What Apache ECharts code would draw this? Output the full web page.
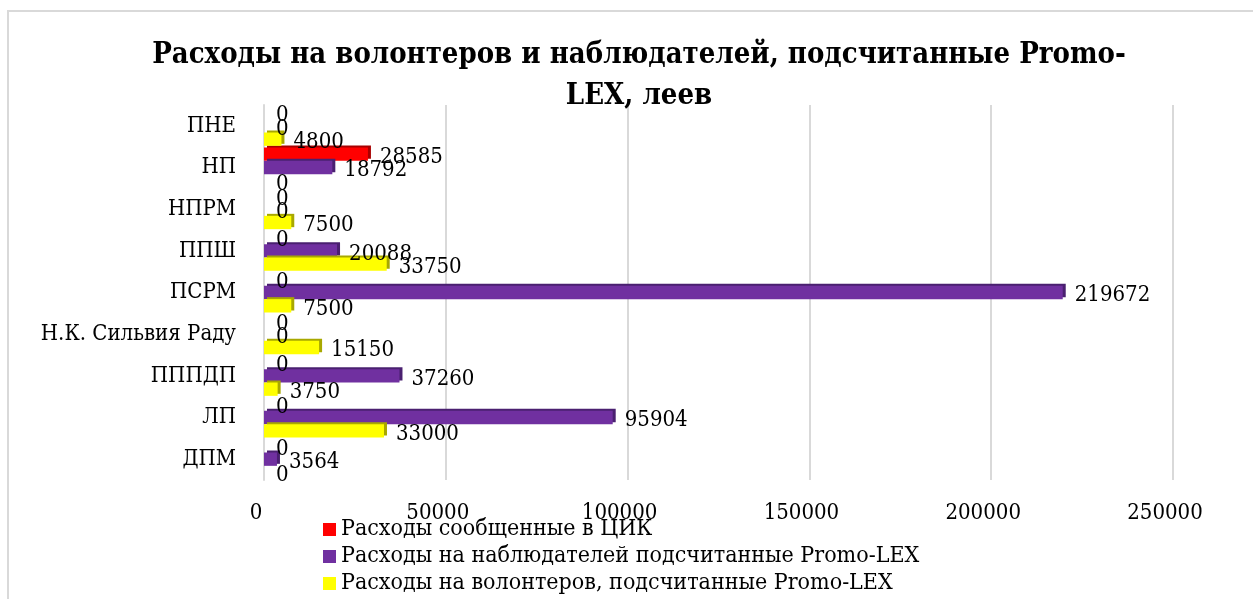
<!DOCTYPE html>
<html>
<head>
<meta charset="utf-8">
<title>Расходы на волонтеров и наблюдателей</title>
<script src="https://cdn.jsdelivr.net/npm/echarts@6/dist/echarts.min.js"></script>
<style>
  html, body { margin: 0; padding: 0; background: #fff; }
  #main { width: 1253px; height: 599px; }
</style>
</head>
<body>
<div id="main"></div>
<script>
// категории снизу вверх, как на оси
var categories = ['ДПМ', 'ЛП', 'ПППДП', 'Н.К. Сильвия Раду', 'ПСРМ', 'ППШ', 'НПРМ', 'НП', 'ПНЕ'];
var seriesNames = [
  'Расходы сообщенные в ЦИК',
  'Расходы на наблюдателей подсчитанные Promo-LEX',
  'Расходы на волонтеров, подсчитанные Promo-LEX'
];
var cikValues = [0, 0, 0, 0, 0, 0, 0, 28585, 0];
var observerValues = [3564, 95904, 37260, 0, 219672, 20088, 0, 18792, 0];
var volunteerValues = [0, 33000, 3750, 15150, 7500, 33750, 7500, 0, 4800];
var xTicks = [0, 50000, 100000, 150000, 200000, 250000];

var FONT = '"DejaVu Serif Condensed", "DejaVu Serif", serif';
var colors = ['#ff0000', '#7030a0', '#ffff00'];
var sideColors = ['#a80000', '#4a2070', '#a8a800'];

window.onload = function () {
  var chart = echarts.init(document.getElementById('main'));

  function makeSeries(i, values) {
    return {
      name: seriesNames[i],
      type: 'bar',
      data: values,
      barGap: '0%',
      barCategoryGap: '4%',
      itemStyle: {
        color: colors[i],
        shadowColor: sideColors[i],
        shadowOffsetX: 3,
        shadowOffsetY: -2,
        shadowBlur: 0
      },
      label: {
        show: true,
        position: 'right',
        distance: 12,
        offset: [0, 3],
        fontFamily: FONT,
        fontSize: 22,
        color: '#000'
      }
    };
  }

  var option = {
    animation: false,
    color: colors,
    title: {
      text: 'Расходы на волонтеров и наблюдателей, подсчитанные Promo-\nLEX, леев',
      left: 634,
      top: 30,
      textAlign: 'center',
      textStyle: {
        fontFamily: FONT,
        fontWeight: 'bold',
        fontSize: 29,
        lineHeight: 41,
        color: '#000'
      }
    },
    graphic: [{
      type: 'rect',
      shape: { x: 8, y: 11, width: 1270, height: 620 },
      style: { fill: 'none', stroke: '#d9d9d9', lineWidth: 2 },
      silent: true
    }],
    legend: {
      orient: 'vertical',
      left: 323,
      top: 518,
      height: 120,
      padding: 0,
      itemWidth: 13,
      itemHeight: 13,
      itemGap: 4,
      icon: 'rect',
      data: seriesNames,
      textStyle: { fontFamily: FONT, fontSize: 23, lineHeight: 23, color: '#000' }
    },
    grid: { left: 264, right: 80, top: 105, bottom: 119, containLabel: false },
    xAxis: {
      type: 'value',
      min: xTicks[0],
      max: xTicks[xTicks.length - 1],
      interval: xTicks[1] - xTicks[0],
      axisLine: { show: false },
      axisTick: { show: false },
      splitLine: { lineStyle: { color: '#d9d9d9', width: 2 } },
      axisLabel: {
        margin: 22,
        padding: [0, 16, 0, 0],
        fontFamily: FONT,
        fontSize: 22,
        color: '#000',
        formatter: function (v) { return String(v); }
      }
    },
    yAxis: {
      type: 'category',
      data: categories,
      axisLine: { show: true, lineStyle: { color: '#d9d9d9', width: 2 } },
      axisTick: { show: false },
      axisLabel: {
        margin: 28,
        padding: [8, 0, 0, 0],
        fontFamily: FONT,
        fontSize: 22,
        color: '#000'
      }
    },
    series: [
      makeSeries(0, cikValues),
      makeSeries(1, observerValues),
      makeSeries(2, volunteerValues)
    ]
  };
  chart.setOption(option);
};
</script>
</body>
</html>
